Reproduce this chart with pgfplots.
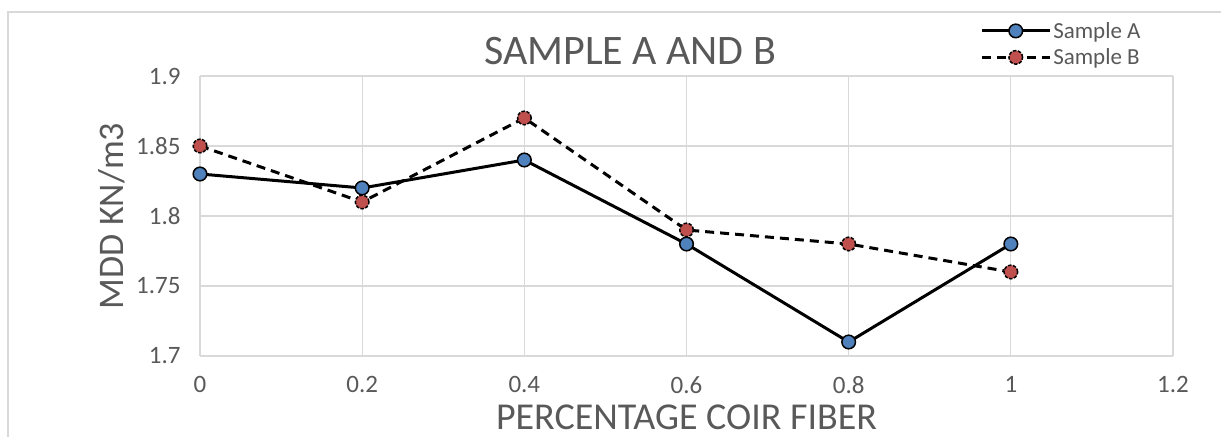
\documentclass[border=0pt]{standalone}
\usepackage{pgfplots}
\pgfplotsset{compat=1.18}
\usepackage{fontspec}
\setmainfont{Carlito}
\definecolor{txt}{HTML}{595959}
\definecolor{grd}{HTML}{D9D9D9}
\definecolor{ablue}{HTML}{4F81BD}
\definecolor{bred}{HTML}{C0504D}
\begin{document}
\begin{tikzpicture}[x=1bp,y=1bp]
\path[use as bounding box] (0,0) rectangle (1221,437);
\draw[grd,line width=1.5bp] (8,0) -- (8,425) -- (1221,425);
\begin{axis}[
  at={(200bp,81bp)}, anchor=south west,
  scale only axis, width=973bp, height=280bp,
  xmin=0, xmax=1.2, ymin=1.7, ymax=1.9,
  xtick={0,0.2,...,1.2}, ytick={1.7,1.75,...,1.9},
  xticklabels={0,0.2,0.4,0.6,0.8,1,1.2},
  yticklabels={1.7,1.75,1.8,1.85,1.9},
  grid=major, major grid style={grd,line width=1.2bp},
  axis line style={grd,line width=1.2bp},
  axis x line*=bottom, axis y line*=left,
  major tick length=0pt,
  tick label style={font=\fontsize{25bp}{28bp}\selectfont, text=txt},
  xticklabel style={yshift=-17bp},
  yticklabel style={xshift=-16bp},
  title={SAMPLE A AND B},
  title style={at={(rel axis cs:0.442,1)}, anchor=center, yshift=19bp, font=\fontsize{42bp}{44bp}\selectfont, text=txt},
  xlabel={PERCENTAGE COIR FIBER},
  xlabel style={at={(rel axis cs:0.5,0)}, anchor=center, yshift=-61bp, font=\fontsize{38bp}{42bp}\selectfont, text=txt},
  ylabel={MDD KN/m3},
  ylabel style={at={(rel axis cs:-0.0904,0.5)}, anchor=center, rotate=0, font=\fontsize{36bp}{40bp}\selectfont, text=txt},
  legend style={at={(rel axis cs:0.8017,1)}, anchor=north west, yshift=56bp, draw=none, fill=none,
    font=\fontsize{23bp}{25bp}\selectfont, text=txt, row sep=5bp, inner sep=0pt,
    nodes={inner sep=2bp}},
  legend cell align=left,
  legend image code/.code={\draw[mark repeat=2,mark phase=2,#1] plot coordinates {(0bp,0bp) (34bp,0bp) (68bp,0bp)};},
  clip=false,
]
\addplot[black, line width=3bp, mark=*, mark size=6.8bp, mark options={solid, fill=ablue, draw=black, line width=1.5bp}]
  coordinates {(0,1.83) (0.2,1.82) (0.4,1.84) (0.6,1.78) (0.8,1.71) (1,1.78)};
\addlegendentry{Sample A}
\addplot[black, line width=3bp, dash pattern=on 9bp off 6bp, mark=*, mark size=6.8bp, mark options={solid, fill=bred, draw=black, line width=1.5bp, dash pattern=on 3.5bp off 1.5bp}]
  coordinates {(0,1.85) (0.2,1.81) (0.4,1.87) (0.6,1.79) (0.8,1.78) (1,1.76)};
\addlegendentry{Sample B}
\end{axis}
\end{tikzpicture}
\end{document}
